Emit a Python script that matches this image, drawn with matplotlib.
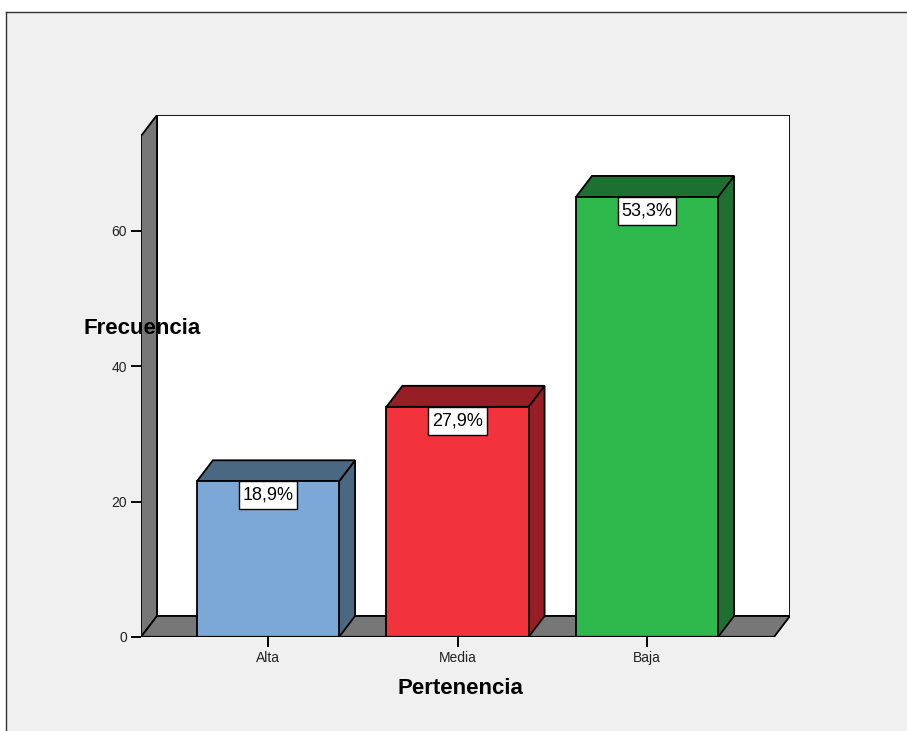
import matplotlib
matplotlib.use("Agg")
import matplotlib.pyplot as plt
from matplotlib.patches import Polygon, Rectangle
from matplotlib.lines import Line2D

plt.rcParams['font.family'] = ['Liberation Sans', 'DejaVu Sans']

categories = ['Alta', 'Media', 'Baja']
counts = [23, 34, 65]
percents = ['18,9%', '27,9%', '53,3%']
front_colors = ['#7ba8d6', '#f2333b', '#2fb84b']
dark_colors = ['#4b6883', '#971e24', '#1e7030']
yticks = [0, 20, 40, 60]

# 3D box geometry (data units)
x0, x1 = -0.67, 2.67
ytop = 74
dx, dy = 0.0844, 3.1
bw = 0.75
wall_grey = '#777777'
lw = 1.3

fig = plt.figure(figsize=(9.07, 7.31), dpi=100, facecolor='white')

# chart frame
W, H = 907, 731
fig.patches.append(Rectangle((6 / W, 0), 1, (H - 12) / H, transform=fig.transFigure,
                             facecolor='#f0f0f0', edgecolor='none', zorder=-2))
fig.lines.append(Line2D([6 / W, 1], [(H - 12) / H] * 2, transform=fig.transFigure,
                        color='#333333', lw=1, zorder=-1))
fig.lines.append(Line2D([6 / W, 6 / W], [0, (H - 12) / H], transform=fig.transFigure,
                        color='#333333', lw=1, zorder=-1))

ax = fig.add_axes([141 / W, (H - 637) / H, 649 / W, 522 / H])
ax.set_zorder(1)
ax.set_xlim(x0, x1 + dx)
ax.set_ylim(0, ytop + dy)
ax.patch.set_visible(False)
for s in ax.spines.values():
    s.set_visible(False)

# back wall, left wall, floor
ax.add_patch(Rectangle((x0 + dx, dy), x1 - x0, ytop, facecolor='white',
                       edgecolor='black', lw=lw, zorder=1))
ax.add_patch(Polygon([(x0, 0), (x0, ytop), (x0 + dx, ytop + dy), (x0 + dx, dy)],
                     closed=True, facecolor=wall_grey, edgecolor='black', lw=lw, zorder=2))
ax.add_patch(Polygon([(x0, 0), (x1, 0), (x1 + dx, dy), (x0 + dx, dy)],
                     closed=True, facecolor=wall_grey, edgecolor='black', lw=lw, zorder=2))

box_w, box_h = 0.311, 4.13
for i, (v, fc, dc, lab) in enumerate(zip(counts, front_colors, dark_colors, percents)):
    l, r = i - bw / 2, i + bw / 2
    ax.add_patch(Polygon([(r, 0), (r + dx, dy), (r + dx, v + dy), (r, v)],
                         closed=True, facecolor=dc, edgecolor='black', lw=lw, zorder=3))
    ax.add_patch(Polygon([(l, v), (r, v), (r + dx, v + dy), (l + dx, v + dy)],
                         closed=True, facecolor=dc, edgecolor='black', lw=lw, zorder=3))
    ax.add_patch(Rectangle((l, 0), bw, v, facecolor=fc, edgecolor='black', lw=lw, zorder=4))
    ax.add_patch(Rectangle((i - box_w / 2, v - box_h), box_w, box_h, facecolor='white',
                           edgecolor='black', lw=1, zorder=5))
    ax.text(i, v - box_h / 2, lab, ha='center', va='center', fontsize=13, zorder=6)

# front floor edge
ax.plot([x0, x1], [0, 0], color='black', lw=1.6, zorder=7, solid_capstyle='butt')

ax.set_xticks(range(len(categories)))
ax.set_xticklabels(categories, fontsize=10, color='#222222')
ax.set_yticks(yticks)
ax.set_yticklabels([str(t) for t in yticks], fontsize=10, color='#222222')
ax.tick_params(axis='both', length=7, width=1.4, color='black', pad=3)

fig.text(142 / W, (H - 329) / H, 'Frecuencia', ha='center', va='center',
         fontsize=16, fontweight='bold', zorder=5)
fig.text(460 / W, (H - 688) / H, 'Pertenencia', ha='center', va='center',
         fontsize=16, fontweight='bold', zorder=5)

fig.savefig('out.png', dpi=100, facecolor=fig.get_facecolor())
